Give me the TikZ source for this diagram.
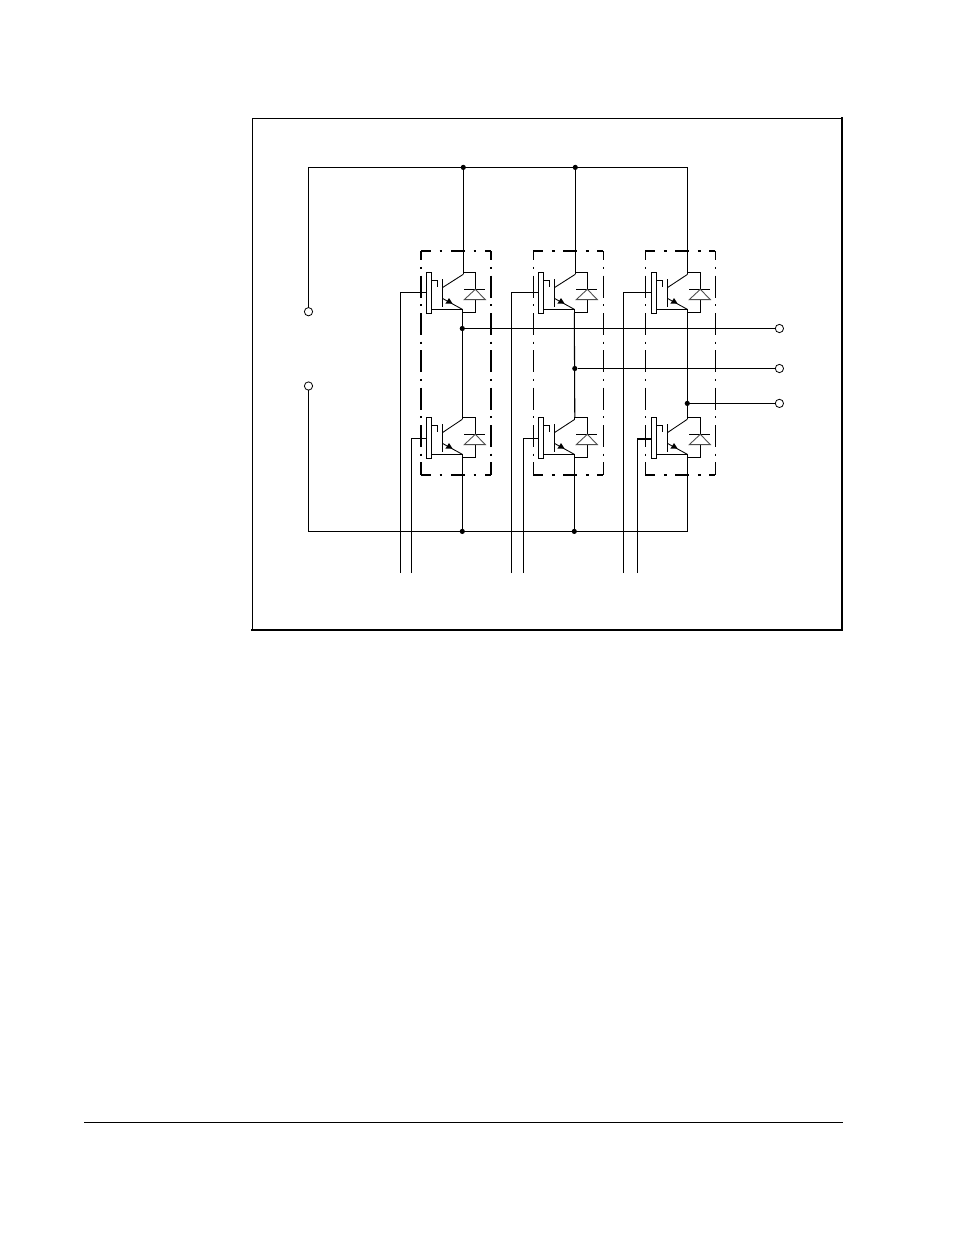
\documentclass[tikz,border=0pt]{standalone}
\newcommand{\igbt}[5]{% name, x, y, gate rel y, collector rel x
  \begin{scope}[shift={(#2,#3)}]
    \coordinate (#1c) at (#5,0);
    \coordinate (#1e) at (36,40.5);
    \coordinate (#1g) at (0,#4);
    \draw[wire,fill=white] (0,0) rectangle (5.5,41);
    \draw[wire] (5.5,8) -- (11.5,8) -- (11.5,14.5);
    \draw[wire] (16,7) -- (16,34.4);
    \draw[thinw] (16,15.4) -- (#5,2);
    \draw[thinw] (16,26) -- (36,37);
    \draw[wire] (5.5,37) -- (36,37) -- (#1e) -- (49,40.5) -- (49,27);
    \draw[wire] (#1c) -- (#5,2);
    \draw[wire] (#1c) -- (49,0) -- (49,17);
    \draw[wire] (38,17) -- (59,17);
    \draw[thinw,draw=black!70] (49,17) -- (38,27.3) -- (59,27.3) -- cycle;
    \fill (22.7,25.8) -- (19,31.4) -- (26.4,31.4) -- cycle;
  \end{scope}}
\newcommand{\modbox}[4]{% x left, x right, horizontal width, vertical width
  \draw[hdash,line width=#3*0.75pt] (#1,251) -- (#2,251);
  \draw[hdash,line width=#3*0.75pt] (#1,475) -- (#2,475);
  \draw[vdash,line width=#4*0.75pt] (#1,251) -- (#1,475);
  \draw[vdash,line width=#4*0.75pt] (#2,251) -- (#2,475);}
\tikzset{
  wire/.style={line width=0.8pt,line cap=butt},
  thinw/.style={line width=0.65pt},
  hdash/.style={dash pattern=on 10.5pt off 6.4pt on 2.2pt off 6.4pt,dash phase=3pt},
  vdash/.style={dash pattern=on 16.5pt off 4.9pt on 1.7pt off 4.9pt,dash phase=9.5pt},
  term/.style={circle,draw,line width=0.6pt,fill=white,minimum size=6.2pt,inner sep=0pt},
  junc/.style={circle,fill=black,minimum size=3.9pt,inner sep=0pt},
}
\begin{document}
\begin{tikzpicture}[x=0.75pt,y=-0.75pt]
\useasboundingbox (0,0) rectangle (954,1235);
\fill[white] (0,0) rectangle (954,1235);
% outer frame
\draw[line width=0.9pt] (841.7,118.5) -- (252.5,118.5) -- (252.5,630);
\draw[line width=1.6pt,line cap=rect] (252.5,630) -- (841.7,630) -- (841.7,118.5);
% footer rule
\draw[line width=0.7pt] (84,1122) -- (843,1122);
% dashed module boxes
\modbox{421}{491}{1.5}{1.8}
\modbox{533.3}{603.3}{2}{1}
\modbox{645.3}{715.3}{2}{1}
% terminals, junctions
\coordinate (rp) at (308.5,167.4);
\coordinate (rn) at (308.5,531.4);
\node[term] (tp) at (rp |- 0,311.7) {};
\node[term] (tn) at (rn |- 0,386) {};
\node[term] (tu) at (779.4,328.5) {};
\node[term] (tv) at (779.4,368.5) {};
\node[term] (tw) at (779.4,403.4) {};
% IGBTs
\igbt{a1}{426.3}{272.3}{20}{37}
\igbt{a2}{426.3}{417.3}{21}{36}
\igbt{b1}{538.3}{272.3}{20}{37}
\igbt{b2}{538.3}{417.3}{21}{36.5}
\igbt{c1}{651.3}{272.3}{20}{36.3}
\igbt{c2}{651.3}{417.3}{21.7}{36}
\node[junc] (jt1) at (a1c |- rp) {};
\node[junc] (jt2) at (b1c |- rp) {};
\coordinate (jt3) at (c1c |- rp);
\node[junc] (jb1) at (a2e |- rn) {};
\node[junc] (jb2) at (b2e |- rn) {};
\coordinate (jb3) at (c2e |- rn);
\node[junc] (ju) at (462.3,328.5) {};
\node[junc] (jv) at (574.8,368.5) {};
\node[junc] (jw) at (687.3,403.4) {};
% DC rails
\draw[wire,line cap=rect] (tp) -- (rp) -- (jt1) -- (jt2) -- (jt3);
\draw[wire,line cap=rect] (tn) -- (rn) -- (jb1) -- (jb2) -- (jb3);
% verticals
\draw[wire] (jt1) -- (a1c);
\draw[wire] (jt2) -- (b1c);
\draw[wire] (jt3) -- (c1c);
\draw[wire] (a1e) -- (a2c);
\draw[wire] (b1e) -- (b2c);
\draw[wire] (c1e) -- (c2c);
\draw[wire] (a2e) -- (jb1);
\draw[wire] (b2e) -- (jb2);
\draw[wire] (c2e) -- (jb3);
% phase outputs
\draw[wire] (ju) -- (tu);
\draw[wire] (jv) -- (tv);
\draw[wire] (jw) -- (tw);
% gate leads
\coordinate (ga1) at (400.7,573);
\coordinate (ga2) at (411.7,573);
\coordinate (gb1) at (511.7,573);
\coordinate (gb2) at (523.4,573);
\coordinate (gc1) at (623.4,573);
\coordinate (gc2) at (637.3,573);
\draw[wire] (ga1) |- (a1g);
\draw[wire] (ga2) |- (a2g);
\draw[wire] (gb1) |- (b1g);
\draw[wire] (gb2) |- (b2g);
\draw[wire] (gc1) |- (c1g);
\draw[wire] (gc2) |- (c2g);
\end{tikzpicture}
\end{document}
